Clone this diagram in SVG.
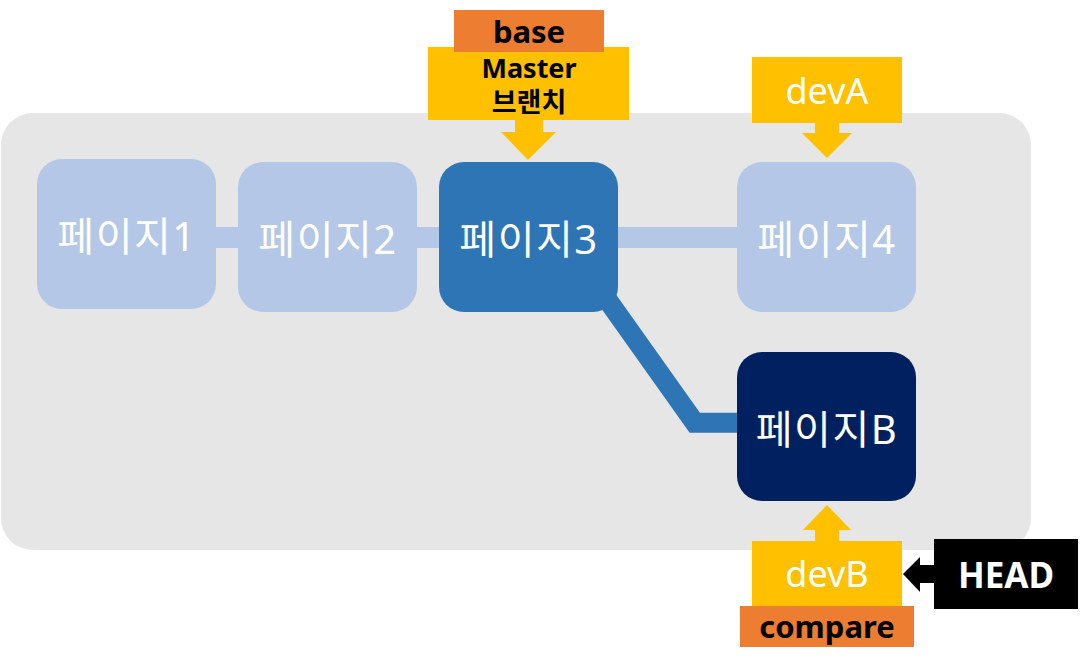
<svg xmlns="http://www.w3.org/2000/svg" width="1081" height="667" viewBox="0 0 1081 667">
<style>
text{font-family:"Noto Sans","Noto Sans CJK KR",sans-serif;text-anchor:middle}
.page{font-size:40px;fill:#fff;letter-spacing:1.5px}
.light{fill:#B4C7E7}
.yel{fill:#FFC000}
.org{fill:#ED7D31}
.bold{font-weight:bold;fill:#000}
.wt{fill:#fff;font-size:36px}
</style>
<rect x="1" y="113" width="1030" height="437" rx="32" fill="#E6E6E6"/>
<g id="connectors">
<line x1="210" y1="237.5" x2="245" y2="237.5" stroke="#B4C7E7" stroke-width="21"/>
<line x1="410" y1="237.5" x2="445" y2="237.5" stroke="#B4C7E7" stroke-width="21"/>
<line x1="610" y1="237.5" x2="745" y2="237.5" stroke="#B4C7E7" stroke-width="21"/>
<polyline points="583,265.4 694.8,422.7 745,422.7" fill="none" stroke="#2E75B6" stroke-width="20" stroke-linejoin="miter"/>
</g>
<g id="node1"><rect class="light" x="37" y="159" width="179" height="150" rx="25"/><text class="page" x="127" y="251">페이지1</text></g>
<g id="node2"><rect class="light" x="238" y="162" width="179" height="150" rx="25"/><text class="page" x="328" y="254">페이지2</text></g>
<g id="node3"><rect fill="#2E75B6" x="439" y="162" width="179" height="150" rx="25"/><text class="page" x="529" y="254">페이지3</text></g>
<g id="node4"><rect class="light" x="737" y="162" width="179" height="150" rx="25"/><text class="page" x="827" y="254">페이지4</text></g>
<g id="nodeB"><rect fill="#002060" x="737" y="352" width="179" height="149" rx="25"/><text class="page" x="827" y="444">페이지B</text></g>
<g id="master">
<rect class="yel" x="428" y="47" width="201" height="73"/>
<polygon class="yel" points="515,119 543,119 543,132 556,132 528,160 501,132 515,132"/>
<text class="bold" x="529" y="78" font-size="27">Master</text>
<text class="bold" x="529" y="112" font-size="27">브랜치</text>
</g>
<g id="base"><rect class="org" x="454" y="10" width="150" height="42"/><text class="bold" x="529" y="43" font-size="31">base</text></g>
<g id="devA">
<rect class="yel" x="752" y="57" width="150" height="66"/>
<polygon class="yel" points="815,122 839,122 839,133 852,133 827,158 802,133 815,133"/>
<text class="wt" x="827" y="104">devA</text>
</g>
<g id="devB">
<rect class="yel" x="752" y="541" width="150" height="65"/>
<polygon class="yel" points="815,542 839,542 839,530 851,530 827,505 803,530 815,530"/>
<text class="wt" x="827" y="587">devB</text>
</g>
<g id="compare"><rect class="org" x="740" y="606" width="174" height="41"/><text class="bold" x="827" y="638" font-size="31">compare</text></g>
<g id="head">
<rect fill="#000" x="934" y="539" width="144" height="70"/>
<polygon fill="#000" points="935,565 920,565 920,557 903,574 920,592 920,583 935,583"/>
<text x="1006" y="588" font-size="35" font-weight="bold" fill="#fff">HEAD</text>
</g>
</svg>
